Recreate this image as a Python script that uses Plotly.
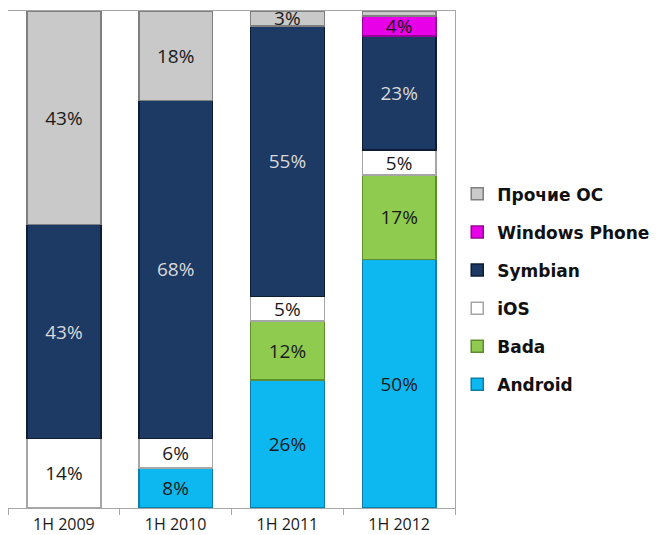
import plotly.graph_objects as go

categories = ["1H 2009", "1H 2010", "1H 2011", "1H 2012"]
android = [0, 8, 26, 50]
bada = [0, 0, 12, 17]
ios = [14, 6, 5, 5]
symbian = [43, 68, 55, 23]
windows_phone = [0, 0, 0, 4]
other = [43, 18, 3, 1]
label_min = 2

series = [
    ("Android", android, "#0DB8F0", "#0A7FA8", "#1a1a1a"),
    ("Bada", bada, "#8FCB4E", "#5E8C2E", "#1a1a1a"),
    ("iOS", ios, "#FFFFFF", "#A6A6A6", "#1a1a1a"),
    ("Symbian", symbian, "#1D3A64", "#0E1D33", "#D9D9D9"),
    ("Windows Phone", windows_phone, "#E800E8", "#9A009A", "#1a1a1a"),
    ("Прочие ОС", other, "#C9C9C9", "#7F7F7F", "#1a1a1a"),
]

fig = go.Figure()
for i, (name, vals, col, edge, tcol) in enumerate(series):
    fig.add_trace(go.Bar(
        x=categories, y=vals, name=name, legendgroup=name,
        legendrank=1000 - i,
        marker=dict(color=col, line=dict(color=edge, width=1.5)),
        text=[f"{v}%" if v >= label_min else "" for v in vals],
        textposition="inside", insidetextanchor="middle",
        textangle=0, constraintext="none",
        textfont=dict(family="Open Sans, sans-serif", size=19, color=tcol),
        hoverinfo="skip",
    ))

fig.update_layout(
    barmode="stack", barnorm="percent", bargap=0.34,
    width=662, height=535,
    margin=dict(l=0, r=215, t=3, b=35),
    paper_bgcolor="white", plot_bgcolor="white",
    showlegend=True,
    legend=dict(
        traceorder="grouped", x=1.005, xanchor="left", y=0.44, yanchor="middle",
        font=dict(family="DejaVu Sans, sans-serif", size=17, color="#111111", weight="bold"),
        tracegroupgap=13, itemwidth=30,
    ),
    font=dict(family="Open Sans, sans-serif"),
)
fig.update_xaxes(
    showline=True, linecolor="#A6A6A6", linewidth=1, mirror=True,
    ticks="outside", tickson="boundaries", ticklen=6, tickcolor="#A6A6A6",
    ticklabelstandoff=2,
    tickfont=dict(family="Open Sans, sans-serif", size=16, color="#1a1a1a"),
)
fig.update_yaxes(
    range=[0, 100], showticklabels=False, showgrid=False, zeroline=False,
    showline=True, linecolor="#A6A6A6", linewidth=1, mirror=True, ticks="",
)

fig.write_html("out.html")
